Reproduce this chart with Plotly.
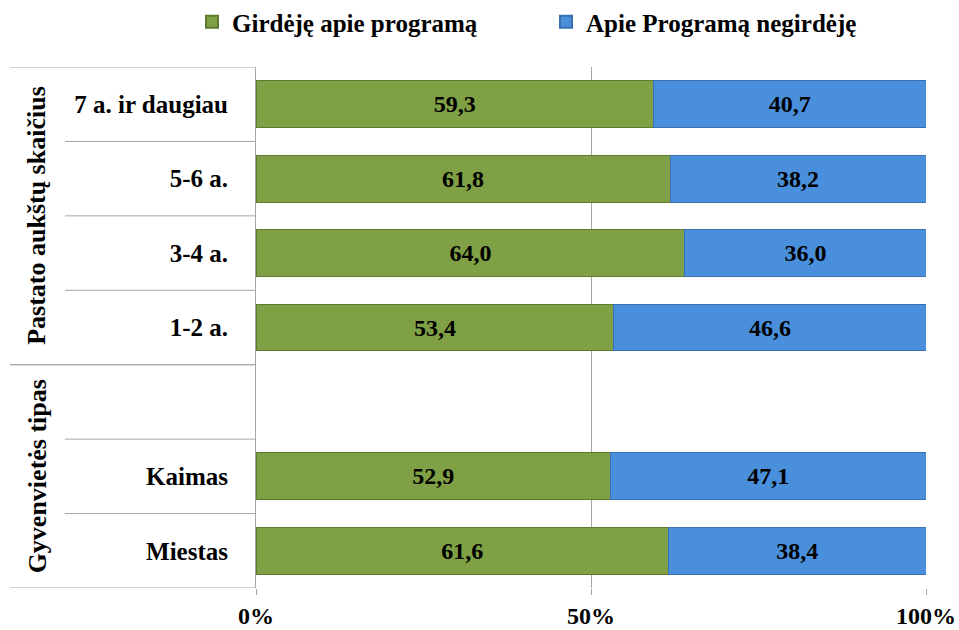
import plotly.graph_objects as go

# Data (bottom -> top)
categories = ["Miestas", "Kaimas", "", "1-2 a.", "3-4 a.", "5-6 a.", "7 a. ir daugiau"]
heard = [61.6, 52.9, None, 53.4, 64.0, 61.8, 59.3]
not_heard = [38.4, 47.1, None, 46.6, 36.0, 38.2, 40.7]
series_names = ["Girdėję apie programą", "Apie Programą negirdėję"]
groups = [("Gyvenvietės tipas", 0, 2), ("Pastato aukštų skaičius", 3, 6)]
x_ticks = [0, 50, 100]
x_ticklabels = ["0%", "50%", "100%"]

FONT = "Liberation Serif"
GREEN = "#80A045"
BLUE = "#4A8FDC"

ypos = list(range(len(categories)))

def fmt(v):
    return "" if v is None else f"{v:.1f}".replace(".", ",")

def font(size):
    return dict(family=FONT, size=size, color="black", weight=700)

fig = go.Figure()
fig.add_trace(go.Bar(
    y=ypos, x=heard, orientation="h", name=series_names[0], legend="legend",
    marker=dict(color=GREEN, line=dict(color="#5E7A30", width=1)),
    text=[fmt(v) for v in heard], textposition="inside", insidetextanchor="middle",
    textfont=font(24),
))
fig.add_trace(go.Bar(
    y=ypos, x=not_heard, orientation="h", name=series_names[1], legend="legend2",
    marker=dict(color=BLUE, line=dict(color="#3A70B0", width=1)),
    text=[fmt(v) for v in not_heard], textposition="inside", insidetextanchor="middle",
    textfont=font(24),
))

L, R, T, B = 256, 33, 67, 42
W, H = 959, 630
pw = W - L - R

def px_to_paper_x(px):
    return (px - L) / pw

shapes = []
line_style = dict(color="#A6A6A6", width=1)
for name, lo, hi in groups:
    for yb in (lo - 0.5, hi + 0.5):
        shapes.append(dict(type="line", xref="paper", yref="y",
                           x0=px_to_paper_x(10), x1=0, y0=yb, y1=yb, line=line_style))
    for k in range(lo, hi):
        shapes.append(dict(type="line", xref="paper", yref="y",
                           x0=px_to_paper_x(65), x1=0, y0=k + 0.5, y1=k + 0.5, line=line_style))

annotations = []
for name, lo, hi in groups:
    annotations.append(dict(
        text=name, xref="paper", yref="y", x=px_to_paper_x(37), y=(lo + hi) / 2,
        textangle=-90, showarrow=False, xanchor="center", yanchor="middle",
        font=font(26),
    ))

legend_common = dict(orientation="h", xref="container", yref="container",
                     xanchor="left", yanchor="middle", font=font(25),
                     itemsizing="constant", bgcolor="rgba(0,0,0,0)")

fig.update_layout(
    barmode="stack",
    bargap=0.37,
    width=W, height=H,
    font=dict(family=FONT),
    margin=dict(l=L, r=R, t=T, b=B, autoexpand=False),
    plot_bgcolor="white", paper_bgcolor="white",
    showlegend=True,
    legend=dict(x=192 / W, y=1 - 22 / H, **legend_common),
    legend2=dict(x=546 / W, y=1 - 22 / H, **legend_common),
    shapes=shapes,
    annotations=annotations,
    xaxis=dict(range=[0, 100], tickvals=x_ticks, ticktext=x_ticklabels,
               showgrid=True, gridcolor="#A6A6A6", gridwidth=1,
               zeroline=False, showline=False, automargin=False,
               ticks="outside", ticklen=6, tickcolor="#A6A6A6",
               tickfont=font(24)),
    yaxis=dict(range=[-0.5, 6.5], tickvals=ypos, ticktext=categories,
               showgrid=False, zeroline=False, showline=True, linecolor="#A6A6A6",
               ticks="", ticklabelstandoff=22, automargin=False,
               tickfont=font(25)),
)
fig.write_html("out.html", config={"displayModeBar": False},
               post_script="document.body.style.margin='0';")
